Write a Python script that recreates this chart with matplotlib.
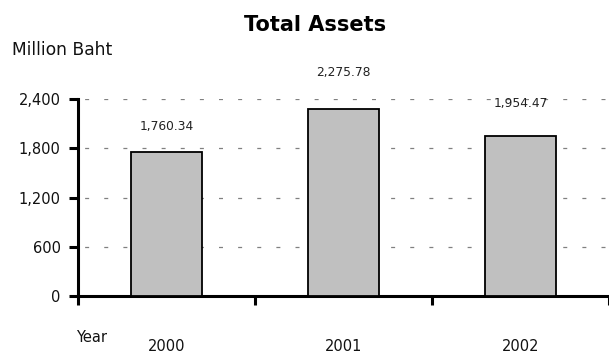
import numpy as np
import matplotlib

matplotlib.use("Agg")
import matplotlib.pyplot as plt

years = ["2000", "2001", "2002"]
assets = [1760.34, 2275.78, 1954.47]
y_ticks = [0, 600, 1200, 1800, 2400]
y_tick_labels = ["0", "600", "1,200", "1,800", "2,400"]

plt.rcParams["font.family"] = ["DejaVu Sans"]

fig = plt.figure(figsize=(6.09, 3.53), dpi=100)
ax = fig.add_axes([78 / 609, 57 / 353, 531 / 609, 197 / 353])

x = np.arange(len(years)) + 0.5
ax.bar(x, assets, width=0.4, color="#c0c0c0", edgecolor="black",
       linewidth=1.3, zorder=3)

# value labels sit at slightly different heights above each bar
label_lift = [25, 37, 32]
for xi, v, lift in zip(x, assets, label_lift):
    ax.annotate(f"{v:,.2f}", (xi, v), xytext=(0, lift * 0.72),
                textcoords="offset points", ha="center", va="center",
                fontsize=8.8, color="#222222", zorder=4)

ax.set_xlim(0, len(years))
ax.set_ylim(0, 2400)
ax.set_yticks(y_ticks)
ax.set_yticklabels(y_tick_labels, fontsize=10.5, color="#111111")
ax.set_xticks(np.arange(len(years) + 1))
ax.set_xticklabels([])
ax.set_xticks(x, minor=True)
ax.set_xticklabels(years, minor=True, fontsize=10.5, color="#111111")
ax.tick_params(axis="x", which="minor", length=0, pad=31)
ax.tick_params(axis="x", which="major", length=6.5, width=2.2, direction="out")
ax.tick_params(axis="y", length=6.5, width=2.2, direction="out", pad=6)

ax.yaxis.grid(True, linestyle=(10, (3.2, 12.1)), color="#808080",
              linewidth=0.9, zorder=0)
ax.set_axisbelow(True)

for side in ["top", "right"]:
    ax.spines[side].set_visible(False)
for side in ["left", "bottom"]:
    ax.spines[side].set_linewidth(2.2)

fig.text(315 / 609, 1 - 25 / 353, "Total Assets", ha="center", va="center",
         fontsize=15, fontweight="bold")
fig.text(12 / 609, 1 - 50 / 353, "Million Baht", ha="left", va="center",
         fontsize=12.3, color="#111111")
fig.text(76 / 609, 1 - 338 / 353, "Year", ha="left", va="center",
         fontsize=10.5, color="#111111")

fig.savefig("out.png", dpi=100)
